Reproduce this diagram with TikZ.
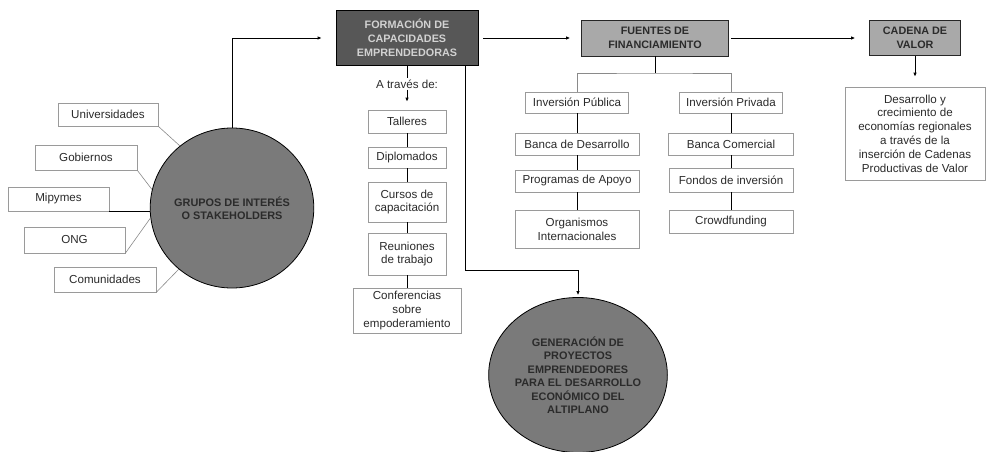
\documentclass[tikz,border=0pt]{standalone}
\usepackage{fontspec}
\setmainfont{Liberation Sans}
\usetikzlibrary{shapes.geometric,arrows.meta}
\definecolor{darkfill}{HTML}{575757}
\definecolor{lighttxt}{HTML}{D2D2D2}
\definecolor{midfill}{HTML}{A9A9A9}
\definecolor{circfill}{HTML}{7A7A7A}
\definecolor{boxgray}{HTML}{9A9A9A}
\definecolor{linegray}{HTML}{8A8A8A}
\definecolor{txt}{HTML}{2B2B2B}
\tikzset{
 lbox/.style={draw=boxgray, line width=0.6pt, fill=white, align=center, inner sep=1pt, font=\fontsize{11.6}{13.8}\selectfont, text=txt},
 sz/.style 2 args={minimum width=#1pt, minimum height=#2pt},
 darkb/.style={draw=black, line width=0.7pt, fill=darkfill, text=lighttxt, align=center, inner sep=1pt, font=\fontsize{10.8}{14}\selectfont\bfseries},
 midb/.style={draw=black!85, line width=0.7pt, fill=midfill, text=txt, align=center, inner sep=1pt, font=\fontsize{10.8}{14}\selectfont\bfseries},
 circ/.style={ellipse, draw=black, line width=0.8pt, fill=circfill, text=txt, align=center, inner sep=0pt, font=\fontsize{10.9}{13.5}\selectfont\bfseries},
 bline/.style={draw=black, line width=0.8pt},
 gline/.style={draw=linegray, line width=0.6pt},
 arr/.style={bline, -{Latex[length=4pt,width=3.5pt]}},
}
\begin{document}
\begin{tikzpicture}[x=1pt,y=-1pt]
\useasboundingbox (0,0) rectangle (989,452);
% stakeholders
\node[circ, minimum width=145pt, minimum height=160pt] (stake) at (232,208) {GRUPOS DE INTERÉS\\O STAKEHOLDERS};
\node[lbox, sz={100}{23}] (univ) at (108,114.5) {Universidades};
\node[lbox, sz={102}{25}] (gob) at (86,157.5) {Gobiernos};
\node[lbox, sz={101}{24}] (mip) at (58.5,199) {Mipymes};
\node[lbox, sz={101}{26}] (ong) at (74.5,240) {ONG};
\node[lbox, sz={102}{25}] (com) at (105,279.5) {Comunidades};
\draw[gline] (univ.south east) -- (stake.130);
\draw[gline] (gob.south east) -- (stake.167);
\draw[bline] (mip.south east) -- (mip.south east -| stake.west);
\draw[gline] (ong.south east) -- (stake.187);
\draw[gline] (com.south east) -- (stake.229);
% top row
\node[darkb, sz={142}{55}] (form) at (407,38) {FORMACIÓN DE\\CAPACIDADES\\EMPRENDEDORAS};
\node[midb, sz={147}{36}] (fuen) at (655,38) {FUENTES DE\\FINANCIAMIENTO};
\node[midb, sz={91}{35}] (cad) at (915,38) {CADENA DE\\VALOR};
\node[lbox, sz={140}{93}] (des) at (915,133.5) {Desarrollo y\\crecimiento de\\economías regionales\\a través de la\\inserción de Cadenas\\Productivas de Valor};
\draw[arr, shorten >=14pt] (stake.north) |- (form.west);
\draw[arr, shorten <=5pt, shorten >=11pt] (form.east) -- (fuen.west);
\draw[arr, shorten <=2pt, shorten >=14pt] (fuen.east) -- (cad.west);
\draw[arr, shorten >=10pt] (cad.south) -- (des.north);
% formacion chain
\node[font=\fontsize{11.6}{13.8}\selectfont, text=txt, inner sep=1pt] (via) at (407,84) {A través de:};
\node[lbox, sz={78}{23}] (tall) at (407,121.5) {Talleres};
\node[lbox, sz={78}{21}] (dipl) at (407,157.5) {Diplomados};
\node[lbox, sz={78}{40}] (curs) at (407,202) {Cursos de\\capacitación};
\node[lbox, sz={78}{42}] (reun) at (407,254) {Reuniones\\de trabajo};
\node[lbox, sz={108}{45}] (conf) at (407,310.5) {Conferencias\\sobre\\empoderamiento};
\draw[bline] (form.south) -- (via.north);
\draw[arr, shorten >=8pt] (via.south) -- (tall.north);
\draw[bline] (tall.south) -- (dipl.north);
\draw[bline] (dipl.south) -- (curs.north);
\draw[bline] (curs.south) -- (reun.north);
\draw[bline] (reun.south) -- (conf.north);
% generacion
\node[circ, minimum width=145pt, minimum height=155pt] (gen) at (578,375) {GENERACIÓN DE\\PROYECTOS\\EMPRENDEDORES\\PARA EL DESARROLLO\\ECONÓMICO DEL\\ALTIPLANO};
\draw[arr, shorten >=2pt] ([xshift=58pt]form.south) -- ++(0,205) -| (gen.north);
% fuentes
\node[lbox, sz={103}{21}] (invpub) at (577,102.5) {Inversión Pública};
\node[lbox, sz={124}{22}] (bancad) at (577,144) {Banca de Desarrollo};
\node[lbox, sz={124}{22}] (prog) at (577,181) {Programas de Apoyo};
\node[lbox, sz={124}{38}] (org) at (577,229) {Organismos\\Internacionales};
\node[lbox, sz={103}{21}] (invpriv) at (731,102.5) {Inversión Privada};
\node[lbox, sz={125}{22}] (bancac) at (731,144) {Banca Comercial};
\node[lbox, sz={124}{24}] (fond) at (731,180) {Fondos de inversión};
\node[lbox, sz={124}{23}] (crowd) at (731,221.5) {Crowdfunding};
\coordinate (fj) at (655,73);
\draw[bline] (fuen.south) -- (fj);
\draw[gline] (invpub.north) |- (fj) -| (invpriv.north);
\draw[bline] (invpub.south) -- (bancad.north);
\draw[bline] (bancad.south) -- (prog.north);
\draw[bline] (prog.south) -- (org.north);
\draw[bline] (invpriv.south) -- (bancac.north);
\draw[bline] (bancac.south) -- (fond.north);
\draw[bline] (fond.south) -- (crowd.north);
\end{tikzpicture}
\end{document}
